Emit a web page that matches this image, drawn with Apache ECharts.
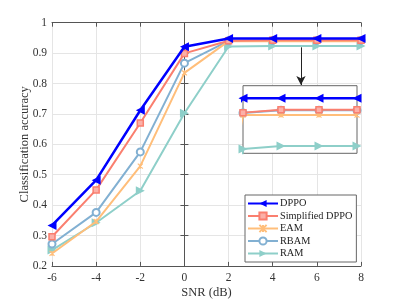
<!DOCTYPE html>
<html><head><meta charset="utf-8">
<script src="https://cdn.jsdelivr.net/npm/echarts@6/dist/echarts.min.js"></script>
<style>html,body{margin:0;padding:0;background:#fff}#c{width:399px;height:299px}</style>
</head><body><div id="c"></div>
<script>
const snr = [-6, -4, -2, 0, 2, 4, 6, 8];
const dppo = [0.333, 0.482, 0.712, 0.921, 0.948, 0.948, 0.948, 0.948];
const sdppo = [0.296, 0.450, 0.670, 0.899, 0.9405, 0.942, 0.942, 0.942];
const eam = [0.241, 0.346, 0.528, 0.835, 0.9392, 0.9392, 0.9392, 0.9392];
const rbam = [0.272, 0.376, 0.575, 0.867, 0.9403, 0.9417, 0.9417, 0.9417];
const ram = [0.252, 0.342, 0.447, 0.702, 0.9215, 0.923, 0.923, 0.923];
const names = ['DPPO', 'Simplified DPPO', 'EAM', 'RBAM', 'RAM'];
const yTicks = [0.2, 0.3, 0.4, 0.5, 0.6, 0.7, 0.8, 0.9, 1];
const xTicks = [-6, -4, -2, 0, 2, 4, 6, 8];
const insetFrom = 2;

const colors = ['#0000FF', '#FA7F6F', '#FFBE7A', '#82B0D2', '#8ECFC9'];
const font = '"Liberation Serif", "DejaVu Serif", serif';
const xPath = 'path://M0,0L10,10M10,0L0,10M5,0L5,10';
const styles = [
  {symbol: 'triangle', symbolRotate: 90, symbolSize: 9, width: 2.5, itemStyle: {color: colors[0]}},
  {symbol: 'rect', symbolSize: 6, width: 2, itemStyle: {color: '#fbb0a8', borderColor: colors[1], borderWidth: 1.5}},
  {symbol: xPath, symbolSize: 5, width: 2, itemStyle: {color: colors[2], borderColor: colors[2], borderWidth: 1.2}},
  {symbol: 'emptyCircle', symbolSize: 7, width: 2, itemStyle: {color: colors[3], borderColor: colors[3], borderWidth: 1.5}},
  {symbol: 'triangle', symbolRotate: -90, symbolSize: 9, width: 2, itemStyle: {color: colors[4]}}
];
const values = [dppo, sdppo, eam, rbam, ram];

const series = [];
values.forEach((v, i) => {
  const st = styles[i];
  series.push({
    name: names[i], type: 'line', xAxisIndex: 0, yAxisIndex: 0,
    data: snr.map((x, k) => [x, v[k]]),
    symbol: st.symbol, symbolRotate: st.symbolRotate || 0, symbolSize: st.symbolSize,
    itemStyle: st.itemStyle, lineStyle: {color: colors[i], width: st.width},
    z: 10 - i, animation: false
  });
});
values.forEach((v, i) => {
  const st = styles[i];
  series.push({
    type: 'line', xAxisIndex: 2, yAxisIndex: 2,
    data: snr.map((x, k) => [x, v[k]]),
    symbol: st.symbol, symbolRotate: st.symbolRotate || 0, symbolSize: st.symbolSize,
    itemStyle: st.itemStyle, lineStyle: {color: colors[i], width: st.width},
    clip: true, z: 10 - i, animation: false
  });
});
series.push({
  type: 'line', xAxisIndex: 0, yAxisIndex: 0, data: [], animation: false,
  markLine: {
    silent: true, symbol: ['none', 'arrow'], symbolSize: [7, 9],
    label: {show: false}, lineStyle: {color: '#222', width: 1, type: 'solid'},
    data: [[{coord: [5.28, 0.919]}, {coord: [5.28, 0.795]}]]
  }
});

const axisLine = {show: true, lineStyle: {color: '#555', width: 1}};
const option = {
  backgroundColor: '#fff',
  animation: false,
  grid: [
    {left: 52, right: 38, top: 22.7, bottom: 33.1, outerBoundsMode: 'none', containLabel: false},
    {left: 243, top: 85.7, width: 114, height: 67.6, show: true, borderColor: '#666', borderWidth: 1, backgroundColor: '#fff', z: 5, outerBoundsMode: 'none', containLabel: false}
  ],
  xAxis: [
    {type: 'value', gridIndex: 0, min: -6, max: 8, interval: 2, position: 'bottom',
     axisLine, axisTick: {inside: true, length: 4, lineStyle: {color: '#555'}},
     axisLabel: {color: '#333', fontFamily: font, fontSize: 11.5, margin: 6},
     splitLine: {show: true, lineStyle: {color: '#e5e5e5'}},
     name: 'SNR (dB)', nameLocation: 'middle', nameGap: 20, nameMoveOverlap: false,
     nameTextStyle: {color: '#333', fontFamily: font, fontSize: 12.5, verticalAlign: 'top'}},
    {type: 'value', gridIndex: 0, min: -6, max: 8, interval: 2, position: 'top',
     axisLine, axisTick: {inside: true, length: 4, lineStyle: {color: '#555'}},
     axisLabel: {show: false}, splitLine: {show: false}},
    {type: 'value', gridIndex: 1, min: insetFrom, max: 8, show: false}
  ],
  yAxis: [
    {type: 'value', gridIndex: 0, min: 0.2, max: 1, interval: 0.1, position: 'left',
     axisLine, axisTick: {inside: true, length: 4, lineStyle: {color: '#555'}},
     axisLabel: {color: '#333', fontFamily: font, fontSize: 11.5, margin: 5,
       formatter: v => String(parseFloat(v.toFixed(1)))},
     splitLine: {show: true, lineStyle: {color: '#e5e5e5'}},
     name: 'Classification accuracy', nameLocation: 'middle', nameGap: 21, nameMoveOverlap: false,
     nameTextStyle: {color: '#333', fontFamily: font, fontSize: 12.5}},
    {type: 'value', gridIndex: 0, min: 0.2, max: 1, interval: 0.1, position: 'right',
     axisLine, axisTick: {inside: true, length: 4, lineStyle: {color: '#555'}},
     axisLabel: {show: false}, splitLine: {show: false}},
    {type: 'value', gridIndex: 1, min: 0.9192, max: 0.9546, show: false}
  ],
  legend: {
    data: names, orient: 'vertical', left: 245, top: 195,
    backgroundColor: '#fff', borderColor: '#666', borderWidth: 1,
    padding: [3, 4, 3, 2], itemGap: 1.5, itemWidth: 30, itemHeight: 9,
    textStyle: {fontFamily: font, fontSize: 10.3, color: '#222', padding: [0, 0, 0, -3], lineHeight: 11},
    z: 20
  },
  series
};
const chart = echarts.init(document.getElementById('c'), null, {renderer: 'canvas'});
chart.setOption(option);
</script></body></html>
